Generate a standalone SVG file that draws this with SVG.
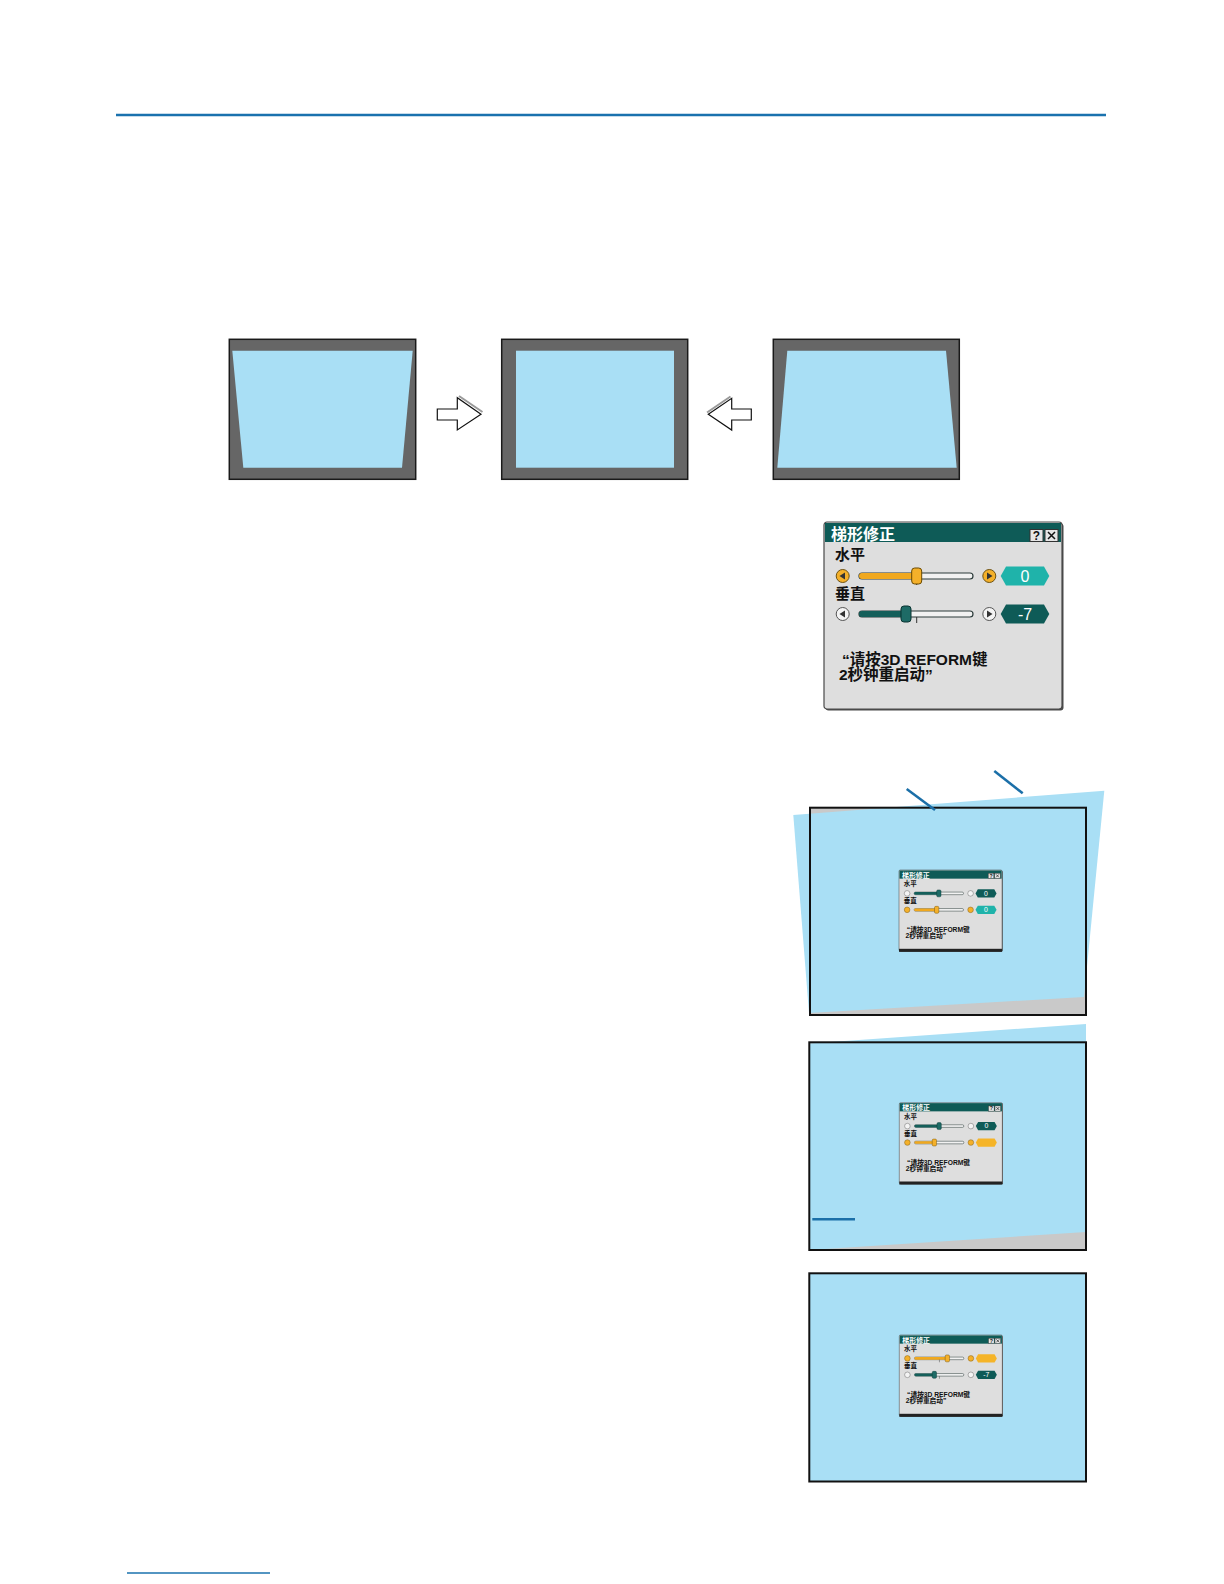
<svg xmlns="http://www.w3.org/2000/svg" xmlns:xlink="http://www.w3.org/1999/xlink" width="1224" height="1584" viewBox="0 0 1224 1584">
<style>
.scr{fill:#666666;stroke:#1a1a1a;stroke-width:1.5}
.img{fill:#a9dff5}
.gry{fill:#c9c9c9}
.box{fill:none;stroke:#111;stroke-width:2}
.arr{fill:#fff;stroke:#111;stroke-width:1.2;stroke-linejoin:miter}
.arrsh{fill:none;stroke:#9a9a9a;stroke-width:2}
.frame{fill:#dedede;stroke:#4a4a4a;stroke-width:1.2}
.tbar{fill:#0e5b57}
.ttl{font-family:"Noto Sans CJK SC",sans-serif;font-size:16px;font-weight:bold;fill:#fff}
.lbl{font-family:"Noto Sans CJK SC",sans-serif;font-size:15px;font-weight:bold;fill:#111}
.msg{font-family:"Liberation Sans","Noto Sans CJK SC",sans-serif;font-size:15.5px;font-weight:bold;fill:#111}
.hb{fill:#e6e6e6;stroke:#333;stroke-width:1}
.hbt{font-family:"Liberation Sans",sans-serif;font-size:12px;font-weight:bold;fill:#111;text-anchor:middle}
.bon{fill:#f4b02a;stroke:#6e5212;stroke-width:1}
.boff{fill:#f4f4f4;stroke:#555;stroke-width:1}
.tri{fill:#333}
.trk{fill:#f2f2f2;stroke:#2c3b3a;stroke-width:1.2}
.fon{fill:#f0a81e}
.foff{fill:#145f5a}
.kon{fill:#f4b02a;stroke:#6b4a00;stroke-width:1}
.koff{fill:#1e6b66;stroke:#0a3533;stroke-width:1}
.vteal{fill:#1fb3aa}
.vdark{fill:#0e5b57}
.vorg{fill:#f5b428}
.vt{font-family:"Liberation Sans",sans-serif;font-size:16px;fill:#fff;text-anchor:middle}
.tick{stroke:#333;stroke-width:1}
.call{stroke:#1b6fa8;stroke-width:2.5;fill:none}
.rule{stroke:#1a72ae;stroke-width:2.5}
</style>
<defs>
<g id="dlgbase">
<rect x="1.5" y="1.5" width="238" height="187" rx="3" fill="#4a4a4a"/>
<rect x="0" y="0" width="238" height="187" rx="3" class="frame"/>
<rect x="1" y="1" width="236" height="19" class="tbar"/>
<text x="7" y="17.5" class="ttl">梯形修正</text>
<rect x="206" y="7.5" width="13" height="12" class="hb"/>
<text x="212.5" y="18" class="hbt">?</text>
<rect x="221" y="7.5" width="13" height="12" class="hb"/>
<path d="M224 10 L231 17 M231 10 L224 17" stroke="#111" stroke-width="1.5"/>
<text x="11" y="38" class="lbl">水平</text>
<text x="11" y="77" class="lbl">垂直</text>
<text x="18" y="143" class="msg">“请按3D REFORM键</text>
<text x="15" y="158" class="msg">2秒钟重启动”</text>
</g>
</defs>

<g id="top-rule"><line x1="116" y1="115" x2="1106" y2="115" class="rule"/></g>

<g id="screen-before-h">
<rect x="229.3" y="339.3" width="186.4" height="140" class="scr"/>
<polygon points="232.3,350.7 412.7,350.7 402,467.7 243.3,467.7" class="img"/>
</g>
<g id="screen-corrected">
<rect x="501.7" y="339.3" width="186" height="140" class="scr"/>
<rect x="516" y="350.7" width="158" height="117" class="img"/>
</g>
<g id="screen-before-v">
<rect x="773.3" y="339.3" width="186" height="140" class="scr"/>
<polygon points="787.3,350.7 946,350.7 956.7,467.7 777.3,467.7" class="img"/>
</g>

<g id="dialog" transform="translate(824,522)">
<use xlink:href="#dlgbase" href="#dlgbase"/>
<circle cx="18.7" cy="54" r="6.5" class="bon"/><path d="M21 50.5 L15.5 54 L21 57.5Z" class="tri"/>
<rect x="35" y="51" width="114" height="6" rx="3" class="trk"/>
<rect x="35" y="51" width="58" height="6" rx="3" class="fon"/>
<line x1="92.7" y1="57" x2="92.7" y2="63" class="tick"/>
<rect x="87.7" y="46" width="10" height="16" rx="3" class="kon"/>
<circle cx="165.3" cy="54" r="6.5" class="bon"/><path d="M163 50.5 L168.5 54 L163 57.5Z" class="tri"/>
<path d="M176.7 54 L182 44.5 L220 44.5 L225.3 54 L220 63.5 L182 63.5Z" class="vteal"/>
<text x="201" y="59.5" class="vt">0</text>
<circle cx="18.7" cy="92" r="6.5" class="boff"/><path d="M21 88.5 L15.5 92 L21 95.5Z" class="tri"/>
<rect x="35" y="89" width="114" height="6" rx="3" class="trk"/>
<rect x="35" y="89" width="47" height="6" rx="3" class="foff"/>
<line x1="92.7" y1="95" x2="92.7" y2="101" class="tick"/>
<rect x="77" y="84" width="10" height="16" rx="3" class="koff"/>
<circle cx="165.3" cy="92" r="6.5" class="boff"/><path d="M163 88.5 L168.5 92 L163 95.5Z" class="tri"/>
<path d="M176.7 92 L182 82.5 L220 82.5 L225.3 92 L220 101.5 L182 101.5Z" class="vdark"/>
<text x="201" y="97.5" class="vt">-7</text>
</g>

<g id="screen-step1">
<rect x="810" y="807.7" width="276" height="207.3" class="gry"/>
<polygon points="793.3,815 1104.3,790.7 1084,997 809,1013" class="img"/>
<rect x="810" y="807.7" width="276" height="207.3" class="box"/>
<g transform="translate(899,870) scale(0.433)">
<use xlink:href="#dlgbase" href="#dlgbase"/>
<rect x="0" y="182" width="238" height="7" fill="#222"/>
<circle cx="18.7" cy="54" r="6.5" class="boff"/>
<rect x="35" y="51" width="114" height="6" rx="3" class="trk"/>
<rect x="35" y="51" width="57" height="6" rx="3" class="foff"/>
<rect x="87" y="46" width="10" height="16" rx="3" class="koff"/>
<circle cx="165.3" cy="54" r="6.5" class="boff"/>
<path d="M176.7 54 L182 44.5 L220 44.5 L225.3 54 L220 63.5 L182 63.5Z" class="vdark"/>
<text x="201" y="59.5" class="vt">0</text>
<circle cx="18.7" cy="92" r="6.5" class="bon"/>
<rect x="35" y="89" width="114" height="6" rx="3" class="trk"/>
<rect x="35" y="89" width="52" height="6" rx="3" class="fon"/>
<rect x="82" y="84" width="10" height="16" rx="3" class="kon"/>
<circle cx="165.3" cy="92" r="6.5" class="bon"/>
<path d="M176.7 92 L182 82.5 L220 82.5 L225.3 92 L220 101.5 L182 101.5Z" class="vteal"/>
<text x="201" y="97.5" class="vt">0</text>
</g>
</g>

<g id="screen-step2">
<rect x="809.3" y="1042.3" width="276.7" height="207.7" class="gry"/>
<polygon points="809.3,1043.5 1086,1024 1086,1232 809.3,1250" class="img"/>
<rect x="809.3" y="1042.3" width="276.7" height="207.7" class="box"/>
<g transform="translate(899.3,1102.7) scale(0.433)">
<use xlink:href="#dlgbase" href="#dlgbase"/>
<rect x="0" y="182" width="238" height="7" fill="#222"/>
<circle cx="18.7" cy="54" r="6.5" class="boff"/>
<rect x="35" y="51" width="114" height="6" rx="3" class="trk"/>
<rect x="35" y="51" width="57" height="6" rx="3" class="foff"/>
<rect x="87" y="46" width="10" height="16" rx="3" class="koff"/>
<circle cx="165.3" cy="54" r="6.5" class="boff"/>
<path d="M176.7 54 L182 44.5 L220 44.5 L225.3 54 L220 63.5 L182 63.5Z" class="vdark"/>
<text x="201" y="59.5" class="vt">0</text>
<circle cx="18.7" cy="92" r="6.5" class="bon"/>
<rect x="35" y="89" width="114" height="6" rx="3" class="trk"/>
<rect x="35" y="89" width="46" height="6" rx="3" class="fon"/>
<rect x="76" y="84" width="10" height="16" rx="3" class="kon"/>
<circle cx="165.3" cy="92" r="6.5" class="bon"/>
<path d="M176.7 92 L182 82.5 L220 82.5 L225.3 92 L220 101.5 L182 101.5Z" class="vorg"/>
</g>
</g>

<g id="screen-step3">
<rect x="809.3" y="1273.3" width="276.7" height="208.2" class="img"/>
<rect x="809.3" y="1273.3" width="276.7" height="208.2" class="box"/>
<g transform="translate(899.3,1335) scale(0.433)">
<use xlink:href="#dlgbase" href="#dlgbase"/>
<rect x="0" y="182" width="238" height="7" fill="#222"/>
<circle cx="18.7" cy="54" r="6.5" class="bon"/>
<rect x="35" y="51" width="114" height="6" rx="3" class="trk"/>
<rect x="35" y="51" width="76" height="6" rx="3" class="fon"/>
<line x1="92.7" y1="57" x2="92.7" y2="63" class="tick"/>
<rect x="106" y="46" width="10" height="16" rx="3" class="kon"/>
<circle cx="165.3" cy="54" r="6.5" class="bon"/>
<path d="M176.7 54 L182 44.5 L220 44.5 L225.3 54 L220 63.5 L182 63.5Z" class="vorg"/>
<circle cx="18.7" cy="92" r="6.5" class="boff"/>
<rect x="35" y="89" width="114" height="6" rx="3" class="trk"/>
<rect x="35" y="89" width="46" height="6" rx="3" class="foff"/>
<line x1="92.7" y1="95" x2="92.7" y2="101" class="tick"/>
<rect x="76" y="84" width="10" height="16" rx="3" class="koff"/>
<circle cx="165.3" cy="92" r="6.5" class="boff"/>
<path d="M176.7 92 L182 82.5 L220 82.5 L225.3 92 L220 101.5 L182 101.5Z" class="vdark"/>
<text x="201" y="97.5" class="vt">-7</text>
</g>
</g>

<g id="connectors">
<path d="M459 396 L482.5 412" class="arrsh"/>
<polygon points="437.3,409 457.3,409 457.3,397.7 481,414.3 457.3,430 457.3,420 437.3,420" class="arr"/>
<path d="M730.5 396.5 L707 412.5" class="arrsh"/>
<polygon points="708.3,414.3 731.7,398.3 731.7,409 751.3,409 751.3,420 731.7,420 731.7,430" class="arr"/>
<line x1="906.7" y1="789" x2="935" y2="810" class="call"/>
<line x1="994.3" y1="771" x2="1022.7" y2="793.3" class="call"/>
<line x1="812.3" y1="1219.3" x2="855" y2="1219.3" class="call"/>
</g>

<g id="bottom-rule"><line x1="127" y1="1573" x2="270" y2="1573" stroke="#1a72ae" stroke-width="1.5"/></g>
</svg>
